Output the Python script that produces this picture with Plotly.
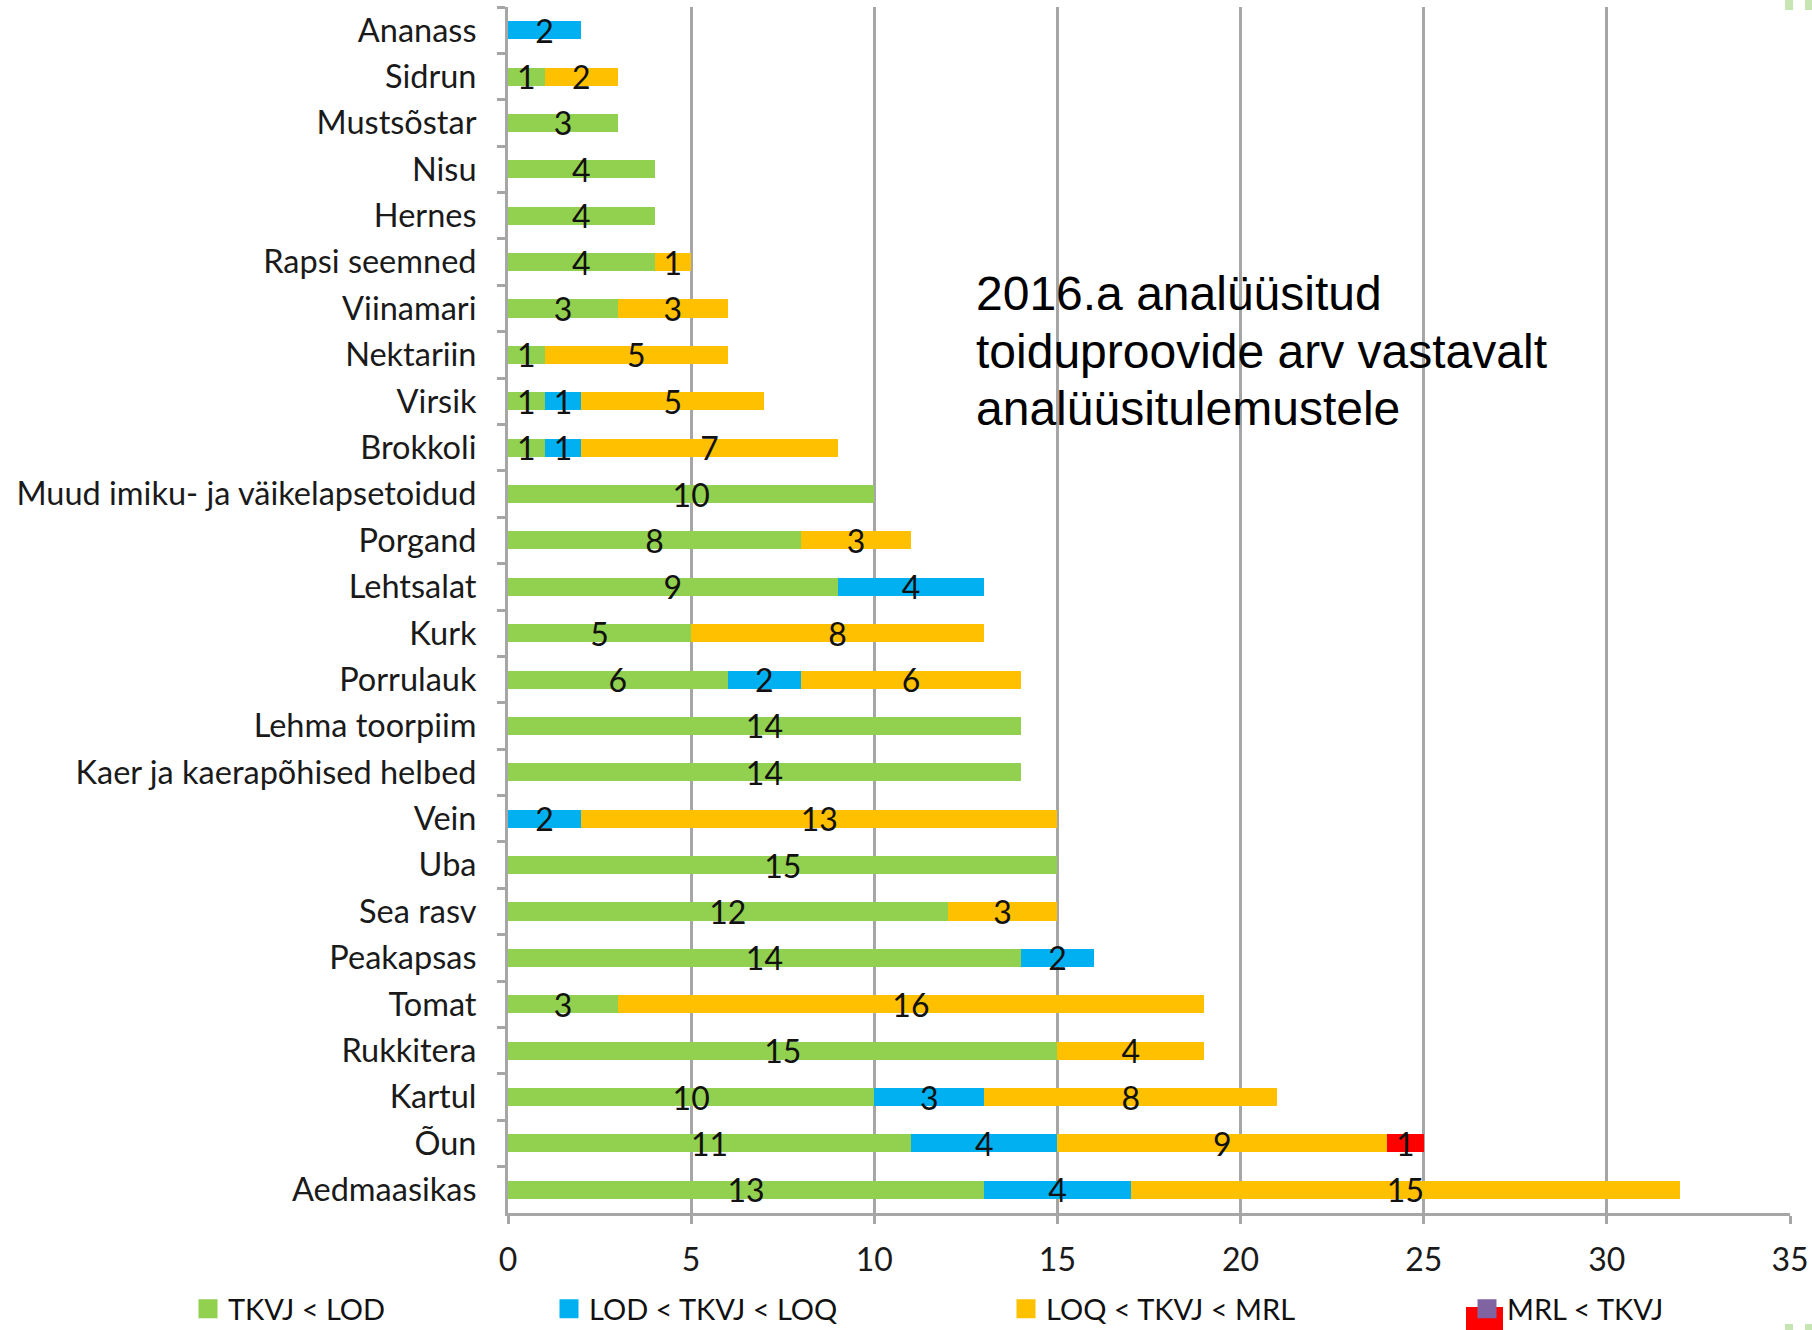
import plotly.graph_objects as go

categories = ["Ananass", "Sidrun", "Mustsõstar", "Nisu", "Hernes", "Rapsi seemned",
              "Viinamari", "Nektariin", "Virsik", "Brokkoli",
              "Muud imiku- ja väikelapsetoidud", "Porgand", "Lehtsalat", "Kurk",
              "Porrulauk", "Lehma toorpiim", "Kaer ja kaerapõhised helbed", "Vein",
              "Uba", "Sea rasv", "Peakapsas", "Tomat", "Rukkitera", "Kartul", "Õun",
              "Aedmaasikas"]

tkvj_lod = [None, 1, 3, 4, 4, 4, 3, 1, 1, 1, 10, 8, 9, 5, 6, 14, 14, None, 15, 12, 14, 3, 15, 10, 11, 13]
lod_loq = [2, None, None, None, None, None, None, None, 1, 1, None, None, 4, None, 2, None, None, 2, None, None, 2, None, None, 3, 4, 4]
loq_mrl = [None, 2, None, None, None, 1, 3, 5, 5, 7, None, 3, None, 8, 6, None, None, 13, None, 3, None, 16, 4, 8, 9, 15]
mrl = [None] * 24 + [1, None]

series_names = ["TKVJ < LOD", "LOD < TKVJ < LOQ", "LOQ < TKVJ < MRL", "MRL < TKVJ"]
series_values = [tkvj_lod, lod_loq, loq_mrl, mrl]
bar_colors = ["#92d050", "#00b0f0", "#ffc000", "#ff0000"]
legend_colors = ["#92d050", "#00b0f0", "#ffc000", "#8064a2"]

x_ticks = [0, 5, 10, 15, 20, 25, 30, 35]

note_lines = ["2016.a analüüsitud", "toiduproovide arv vastavalt", "analüüsitulemustele"]

# geometry (pixels)
W, H = 1812, 1330
ML, MR, MT, MB = 508, 22, 7, 117
PW = W - ML - MR
PH = H - MT - MB


def px_x(px):
    return (px - ML) / PW


def px_y(py):
    return (H - MB - py) / PH


FONT = "Lato"
fig = go.Figure()

for name, vals, col in zip(series_names, series_values, bar_colors):
    fig.add_trace(go.Bar(
        y=categories, x=vals, orientation="h", name=name,
        marker=dict(color=col, line=dict(width=0)),
        text=[str(v) if v else "" for v in vals],
        textposition="inside", insidetextanchor="middle", textangle=0,
        constraintext="none",
        textfont=dict(family=FONT, size=32, color="#111111"),
        showlegend=False, hoverinfo="x+y+name",
    ))

legend_ids = ["legend", "legend2", "legend3", "legend4"]
legend_left_px = [188, 549, 1006, 1467]
for name, col, lid in zip(series_names, legend_colors, legend_ids):
    fig.add_trace(go.Scatter(
        x=[None], y=[None], mode="markers", name=name, legend=lid,
        marker=dict(symbol="square", size=16, color=col, line=dict(width=3, color=col)),
        showlegend=True,
    ))

legend_common = dict(orientation="h", yanchor="middle", xanchor="left",
                     bgcolor="rgba(0,0,0,0)",
                     font=dict(family=FONT, size=29, color="#111111"))
layout_legends = {}
for lid, lx in zip(legend_ids, legend_left_px):
    layout_legends[lid] = dict(x=px_x(lx), y=px_y(1309), **legend_common)

annotations = []
for i, line in enumerate(note_lines):
    annotations.append(dict(
        text=line, xref="paper", yref="paper", x=px_x(974), y=px_y(294 + 57 * i),
        xanchor="left", yanchor="middle", showarrow=False,
        font=dict(family="Liberation Sans", size=48, color="#000000"),
    ))

shapes = [
    dict(type="rect", xref="paper", yref="paper",
         x0=px_x(1466), x1=px_x(1503), y0=px_y(1330), y1=px_y(1307),
         fillcolor="#ff0000", line=dict(width=0), layer="above"),
]
for (x0, x1) in [(1785, 1793), (1805, 1812)]:
    for (y0, y1) in [(0, 10), (1324, 1330)]:
        shapes.append(dict(type="rect", xref="paper", yref="paper",
                           x0=px_x(x0), x1=px_x(x1), y0=px_y(y1), y1=px_y(y0),
                           fillcolor="#c6e5b3", line=dict(width=0), layer="above"))

fig.update_layout(
    width=W, height=H,
    margin=dict(l=ML, r=MR, t=MT, b=MB, pad=0, autoexpand=False),
    barmode="stack", bargap=0.61,
    plot_bgcolor="white", paper_bgcolor="white",
    font=dict(family=FONT, size=32, color="#1a1a1a"),
    annotations=annotations, shapes=shapes,
    **layout_legends,
)

fig.update_xaxes(
    range=[0, 35], tickvals=x_ticks, ticktext=[str(t) for t in x_ticks],
    showgrid=True, gridcolor="#a6a6a6", gridwidth=3,
    showline=True, linecolor="#a6a6a6", linewidth=3,
    ticks="outside", ticklen=8, tickwidth=3, tickcolor="#a6a6a6",
    ticklabelstandoff=9,
    zeroline=False, tickfont=dict(family=FONT, size=32, color="#1a1a1a"),
    fixedrange=True,
)
fig.update_yaxes(
    type="category", categoryorder="array", categoryarray=categories,
    autorange="reversed", showgrid=False,
    showline=True, linecolor="#a6a6a6", linewidth=3,
    ticks="outside", tickson="boundaries", ticklen=8, tickwidth=3, tickcolor="#a6a6a6",
    ticklabelstandoff=22,
    tickfont=dict(family=FONT, size=32.5, color="#1a1a1a"),
    fixedrange=True,
)

fig.write_html("out.html")
